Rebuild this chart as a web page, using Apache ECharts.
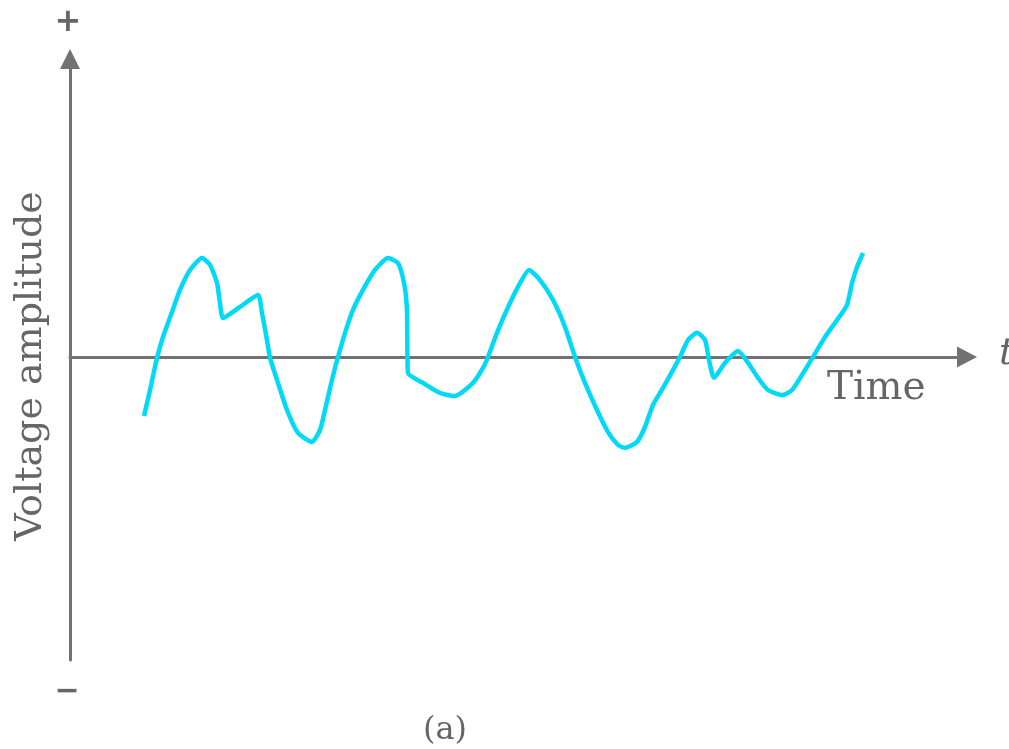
<!DOCTYPE html>
<html>
<head>
<meta charset="utf-8">
<script src="https://cdn.jsdelivr.net/npm/echarts@6/dist/echarts.min.js"></script>
<style>html,body{margin:0;padding:0;background:#fff;}#c{width:1009px;height:749px;}</style>
</head>
<body>
<div id="c"></div>
<script>
// time (arbitrary units, 0..100 along the axis)
var timeValues = [8.25, 8.92, 9.70, 10.37, 11.37, 12.26, 13.38, 14.72, 15.61, 16.39, 16.72, 17.06,
  18.95, 20.96, 21.40, 21.96, 22.30, 23.08, 24.19, 25.42, 26.98, 27.87, 28.43, 28.99, 29.54, 29.88,
  30.66, 31.55, 32.66, 34.00, 35.45, 36.57, 37.24, 37.55, 37.60, 37.68, 39.35, 41.25, 42.92,
  44.93, 46.04, 46.60, 47.60, 49.05, 50.17, 51.17, 52.40, 53.85, 55.18, 56.30, 57.41, 58.75,
  59.98, 61.09, 61.87, 63.21, 64.10, 64.99, 66.11, 67.11, 68.00, 68.90, 69.90, 70.79, 71.24,
  71.79, 73.02, 74.47, 75.59, 76.70, 77.81, 79.38, 80.49, 81.61, 82.83, 84.17, 85.51, 86.62,
  87.18, 87.74, 88.41];
// voltage amplitude (relative units)
var voltageValues = [-0.198, -0.111, -0.003, 0.067, 0.151, 0.225, 0.292, 0.332, 0.309, 0.248, 0.181, 0.131,
  0.168, 0.208, 0.148, 0.057, -0.003, -0.077, -0.178, -0.255, -0.285, -0.245, -0.178, -0.104, -0.037, 0.0,
  0.081, 0.158, 0.225, 0.292, 0.332, 0.315, 0.248, 0.168, 0.057, -0.054, -0.087, -0.121, -0.131,
  -0.087, -0.037, 0.0, 0.081, 0.181, 0.248, 0.292, 0.258, 0.191, 0.101, 0.0, -0.087, -0.178,
  -0.252, -0.295, -0.305, -0.285, -0.235, -0.161, -0.104, -0.050, 0.0, 0.057, 0.081, 0.057, -0.010,
  -0.070, -0.020, 0.020, -0.020, -0.070, -0.111, -0.128, -0.111, -0.060, 0.0, 0.067, 0.124, 0.174,
  0.248, 0.302, 0.349];
var axisRange = { tMin: 0, tMax: 100, vMin: -1.017, vMax: 1 };
var labels = { plus: '+', minus: '\u2212', y: 'Voltage amplitude', x: 'Time', t: 't', caption: '(a)' };

var points = timeValues.map(function (t, i) { return [t, voltageValues[i]]; });
var axisColor = '#737173';
var textColor = '#676567';
var serif = '"DejaVu Serif", "Liberation Serif", serif';

var chart = echarts.init(document.getElementById('c'), null, { renderer: 'canvas' });
chart.setOption({
  animation: false,
  backgroundColor: '#ffffff',
  grid: { left: 70, right: 42, top: 59, bottom: 89 },
  xAxis: {
    type: 'value', min: axisRange.tMin, max: axisRange.tMax,
    axisLine: { show: true, onZero: true, symbol: ['none', 'triangle'], symbolSize: [21, 20],
      lineStyle: { color: axisColor, width: 3 } },
    axisTick: { show: false }, axisLabel: { show: false }, splitLine: { show: false }
  },
  yAxis: {
    type: 'value', min: axisRange.vMin, max: axisRange.vMax,
    axisLine: { show: true, symbol: ['none', 'triangle'], symbolSize: [20, 20],
      lineStyle: { color: axisColor, width: 3 } },
    axisTick: { show: false }, axisLabel: { show: false }, splitLine: { show: false }
  },
  series: [{
    type: 'line', data: points, smooth: 0.2, symbol: 'none',
    lineStyle: { color: '#00daf7', width: 4.5, cap: 'butt', join: 'round' }, z: 3
  }],
  graphic: [
    { type: 'text', x: 68, y: 23, style: { text: labels.plus, font: 'bold 32px "DejaVu Sans", sans-serif', fill: textColor, align: 'center', verticalAlign: 'middle' } },
    { type: 'text', x: 67, y: 692, style: { text: labels.minus, font: 'bold 30px "DejaVu Sans", sans-serif', fill: textColor, align: 'center', verticalAlign: 'middle' } },
    { type: 'text', x: 31, y: 366, rotation: Math.PI / 2, style: { text: labels.y, font: '38px ' + serif, fill: textColor, align: 'center', verticalAlign: 'middle' } },
    { type: 'text', x: 827, y: 389, style: { text: labels.x, font: '39px ' + serif, fill: textColor, align: 'left', verticalAlign: 'middle' } },
    { type: 'text', x: 999, y: 354, style: { text: labels.t, font: 'italic 38px ' + serif, fill: textColor, align: 'left', verticalAlign: 'middle' } },
    { type: 'text', x: 445, y: 731, style: { text: labels.caption, font: '32px ' + serif, fill: textColor, align: 'center', verticalAlign: 'middle' } }
  ]
});
</script>
</body>
</html>
